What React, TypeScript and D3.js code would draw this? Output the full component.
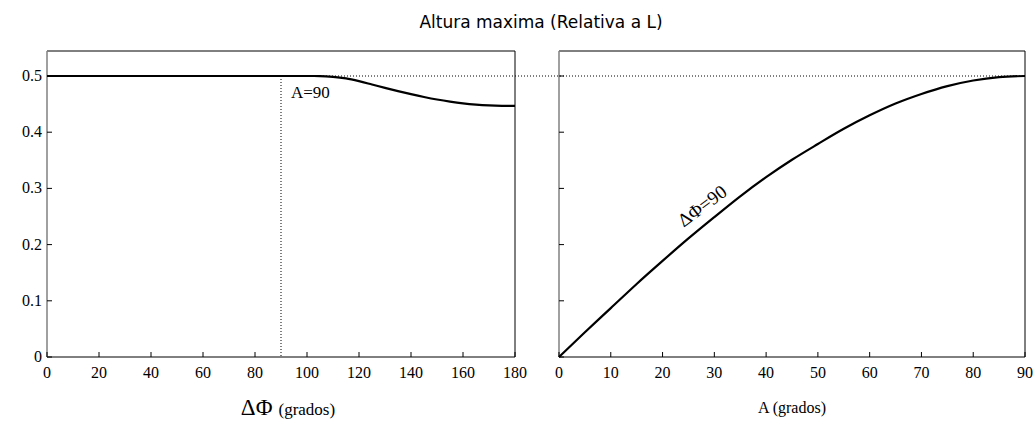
import React from 'react';
import * as d3 from 'd3';

// Left panel: max height vs. delta phi (A = 90)
const dPhi = [0, 20, 40, 60, 80, 90, 100, 105, 110, 115, 120, 125, 130, 135, 140, 145, 150, 155, 160, 165, 170, 175, 180];
const hLeft = [0.5, 0.5, 0.5, 0.5, 0.5, 0.5, 0.5, 0.4999, 0.4986, 0.4957, 0.4908, 0.4849, 0.4789, 0.4731, 0.4677, 0.4627, 0.4582, 0.4544, 0.4513, 0.4491, 0.4477, 0.447, 0.4468];

// Right panel: max height vs. A (delta phi = 90)
const aDeg = [0, 5, 10, 15, 20, 25, 30, 35, 40, 45, 50, 55, 60, 65, 70, 75, 80, 85, 90];
const hRight = [0, 0.044, 0.087, 0.13, 0.171, 0.211, 0.249, 0.286, 0.32, 0.351, 0.379, 0.406, 0.43, 0.451, 0.468, 0.482, 0.492, 0.498, 0.5];

const leftXTicks = [0, 20, 40, 60, 80, 100, 120, 140, 160, 180];
const rightXTicks = [0, 10, 20, 30, 40, 50, 60, 70, 80, 90];
const yTicks = [0, 0.1, 0.2, 0.3, 0.4, 0.5];

const W = 1034;
const H = 421;
const top = 51;
const bottom = 357;
const serif = '"Liberation Serif", "DejaVu Serif", serif';
const sans = '"DejaVu Sans", sans-serif';

export default function App() {
  const y = d3.scaleLinear().domain([0, 0.5]).range([bottom, 76]);
  const xL = d3.scaleLinear().domain([0, 180]).range([47, 515]);
  const xR = d3.scaleLinear().domain([0, 90]).range([559, 1025]);

  const lineL = d3.line<number>().x((d, i) => xL(dPhi[i])).y((d) => y(d)).curve(d3.curveMonotoneX);
  const lineR = d3.line<number>().x((d, i) => xR(aDeg[i])).y((d) => y(d)).curve(d3.curveMonotoneX);

  const tick = 5;

  return (
    <div style={{ position: 'absolute', left: 0, top: 0 }}>
      <svg width={W} height={H} style={{ display: 'block', background: '#fff' }}>
        <text x={541} y={28} textAnchor="middle" fontFamily={sans} fontSize={17} fill="#000">
          Altura maxima (Relativa a L)
        </text>

        {/* reference lines */}
        <line x1={xL(90)} x2={xR(90)} y1={y(0.5)} y2={y(0.5)} stroke="#000" strokeWidth={1} strokeDasharray="1,2" />
        <line x1={xL(90)} x2={xL(90)} y1={y(0.5)} y2={y(0)} stroke="#000" strokeWidth={1} strokeDasharray="1,2" />

        {/* left panel */}
        <g>
          <path d={`M${xL(0)},${top}H${xL(180)}V${bottom}H${xL(0)}`} fill="none" stroke="#000" strokeWidth={1} />
          <line x1={xL(0)} x2={xL(0)} y1={top} y2={bottom} stroke="#808080" strokeWidth={1.5} />
          {yTicks.map((t) => (
            <g key={t}>
              <line x1={xL(0)} x2={xL(0) + tick} y1={y(t)} y2={y(t)} stroke="#000" />
              <text x={42} y={y(t) + 5} textAnchor="end" fontFamily={serif} fontSize={16} fill="#000">
                {t === 0 ? '0' : t.toFixed(1)}
              </text>
            </g>
          ))}
          {leftXTicks.map((t) => (
            <g key={t}>
              <line x1={xL(t)} x2={xL(t)} y1={bottom} y2={bottom - tick} stroke="#000" />
              <text x={xL(t)} y={378} textAnchor="middle" fontFamily={serif} fontSize={16} fill="#000">
                {t}
              </text>
            </g>
          ))}
          <path d={lineL(hLeft) || ''} fill="none" stroke="#000" strokeWidth={2.2} />
          <text x={291} y={98} fontFamily={serif} fontSize={17} fill="#000">A=90</text>
          <text x={288} y={415} textAnchor="middle" fontFamily={serif} fill="#000">
            <tspan fontSize={23}>ΔΦ</tspan>
            <tspan fontSize={17} dx={6}>(grados)</tspan>
          </text>
        </g>

        {/* right panel */}
        <g>
          <path d={`M${xR(0)},${top}H${xR(90)}V${bottom}H${xR(0)}`} fill="none" stroke="#000" strokeWidth={1} />
          <line x1={xR(0)} x2={xR(0)} y1={top} y2={bottom} stroke="#808080" strokeWidth={1.5} />
          {yTicks.map((t) => (
            <line key={t} x1={xR(0)} x2={xR(0) + tick} y1={y(t)} y2={y(t)} stroke="#000" />
          ))}
          {rightXTicks.map((t) => (
            <g key={t}>
              <line x1={xR(t)} x2={xR(t)} y1={bottom} y2={bottom - tick} stroke="#000" />
              <text x={xR(t)} y={378} textAnchor="middle" fontFamily={serif} fontSize={16} fill="#000">
                {t}
              </text>
            </g>
          ))}
          <path d={lineR(hRight) || ''} fill="none" stroke="#000" strokeWidth={2.2} />
          <text
            transform={`translate(706,211) rotate(-37)`}
            textAnchor="middle"
            fontFamily={serif}
            fontSize={19}
            fill="#000"
          >
            ΔΦ=90
          </text>
          <text x={792} y={413} textAnchor="middle" fontFamily={serif} fontSize={16} fill="#000">
            A (grados)
          </text>
        </g>
      </svg>
    </div>
  );
}
